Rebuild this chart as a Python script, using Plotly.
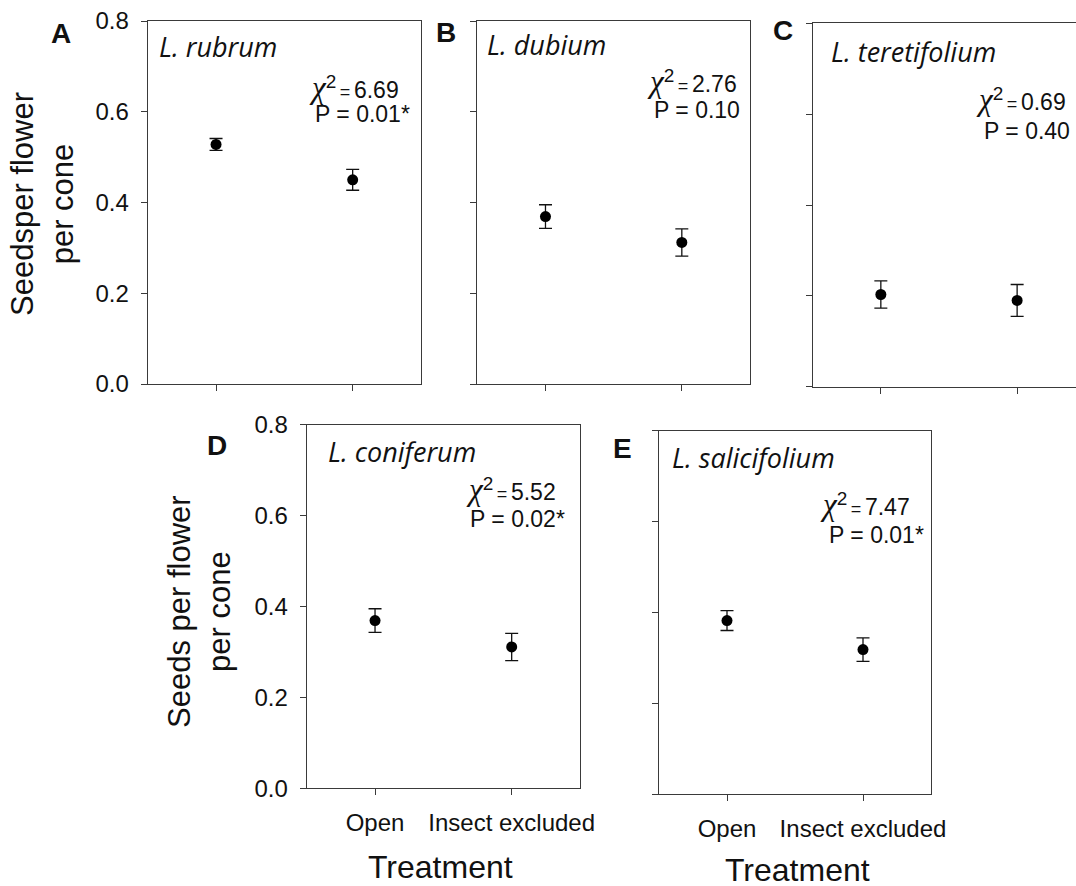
import plotly.graph_objects as go

W, H = 1076, 886

# ---------------- data ----------------
treatments = ["Open", "Insect excluded"]
panel_letters = ["A", "B", "C", "D", "E"]
species = ["L. rubrum", "L. dubium", "L. teretifolium", "L. coniferum", "L. salicifolium"]
open_mean = [0.528, 0.369, 0.203, 0.369, 0.382]
open_se = [0.013, 0.026, 0.030, 0.026, 0.022]
excl_mean = [0.450, 0.312, 0.190, 0.311, 0.318]
excl_se = [0.023, 0.030, 0.035, 0.030, 0.026]
chi2_text = ["6.69", "2.76", "0.69", "5.52", "7.47"]
p_text = ["0.01*", "0.10", "0.40", "0.02*", "0.01*"]
ytick_vals = [0.0, 0.2, 0.4, 0.6, 0.8]
ytick_text = ["0.0", "0.2", "0.4", "0.6", "0.8"]

# ---------------- layout geometry (pixels) ----------------
boxes = [  # left, right, top, bottom
    (147.7, 421.0, 21.0, 384.0),
    (477.3, 750.0, 21.0, 384.0),
    (812.7, 1076.0, 23.3, 386.7),
    (306.7, 580.0, 424.7, 788.3),
    (659.0, 931.0, 430.7, 794.0),
]
xranges = [[-0.5, 1.5], [-0.5, 1.5], [-0.5, 1.432], [-0.5, 1.5], [-0.5, 1.5]]
show_ylabels = [True, False, False, True, False]
show_xlabels = [False, False, False, True, True]
letter_pos = [(60.5, 34), (446, 32.5), (783, 30.5), (217, 445.5), (622, 448.5)]
species_pos = [(157, 46), (485, 44), (829, 51), (326, 452), (670, 457)]
chi_pos = [(401, 88), (739, 82), (1068, 100), (558, 489), (912, 504)]
p_pos = [(412, 114), (742, 110), (1072, 131), (567, 519), (926, 535)]
ytitle_pos = [(42, 204), (199, 612)]
ytitle_text = ["Seedsper flower<br>per cone", "Seeds per flower<br>per cone"]
xtitle_pos = [(440, 867), (797, 870)]

SANS = "Liberation Sans, Arial, sans-serif"
AX = "#3a3a3a"


def fx(x):
    return x / W


def fy(y):
    return 1 - y / H


fig = go.Figure()
layout = dict(
    width=W, height=H,
    margin=dict(l=0, r=0, t=0, b=0, autoexpand=False),
    paper_bgcolor="white", plot_bgcolor="white",
    showlegend=False,
    font=dict(family=SANS, color="#111"),
)

annotations = []
for i in range(5):
    k = "" if i == 0 else str(i + 1)
    l, r, t, b = boxes[i]
    fig.add_trace(go.Scatter(
        x=[0, 1], y=[open_mean[i], excl_mean[i]],
        mode="markers",
        marker=dict(color="black", size=11),
        error_y=dict(type="data", array=[open_se[i], excl_se[i]],
                     color="#111", thickness=1.3, width=6.5),
        xaxis="x" + k, yaxis="y" + k,
        hoverinfo="skip",
    ))
    layout["xaxis" + k] = dict(
        domain=[fx(l), min(fx(r), 1.0)], anchor="y" + k,
        range=xranges[i], tickmode="array", tickvals=[0, 1], ticktext=treatments,
        showticklabels=show_xlabels[i], ticks="outside", ticklen=6, tickwidth=1,
        tickcolor=AX, showline=True, linecolor=AX, linewidth=1, mirror=True,
        showgrid=False, zeroline=False, fixedrange=True, automargin=False,
        tickfont=dict(size=24, family=SANS, color="#111"),
        ticklabelstandoff=7,
    )
    layout["yaxis" + k] = dict(
        domain=[fy(b), fy(t)], anchor="x" + k,
        range=[0, 0.8], tickmode="array", tickvals=ytick_vals, ticktext=ytick_text,
        showticklabels=show_ylabels[i], ticks="outside", ticklen=6, tickwidth=1,
        tickcolor=AX, showline=True, linecolor=AX, linewidth=1,
        mirror=(i != 2),
        showgrid=False, zeroline=False, fixedrange=True, automargin=False,
        tickfont=dict(size=24, family=SANS, color="#111"),
        ticklabelstandoff=7,
    )
    # panel letter
    lx, ly = letter_pos[i]
    annotations.append(dict(x=fx(lx), y=fy(ly), xref="paper", yref="paper",
                            text="<b>" + panel_letters[i] + "</b>", showarrow=False,
                            xanchor="center", yanchor="middle",
                            font=dict(size=28, family=SANS, color="#111")))
    # species name
    sx, sy = species_pos[i]
    annotations.append(dict(x=fx(sx), y=fy(sy), xref="paper", yref="paper",
                            text="<i>" + species[i] + "</i>", showarrow=False,
                            xanchor="left", yanchor="middle",
                            font=dict(size=27, family="Open Sans, sans-serif", color="#111")))
    # chi-square line
    cx, cy = chi_pos[i]
    annotations.append(dict(
        x=fx(cx), y=fy(cy), xref="paper", yref="paper",
        text=("<span style='font-family:Liberation Serif;font-style:italic;font-size:31px'>\u03c7</span>"
              "<sup><span style='font-size:19px'>2</span></sup>"
              "<span style='font-size:18px'>\u2009=\u2009</span>" + chi2_text[i]),
        showarrow=False, xanchor="right", yanchor="middle",
        font=dict(size=23, family=SANS, color="#111")))
    # P line
    px_, py_ = p_pos[i]
    annotations.append(dict(x=fx(px_), y=fy(py_), xref="paper", yref="paper",
                            text="P = " + p_text[i], showarrow=False,
                            xanchor="right", yanchor="middle",
                            font=dict(size=23, family=SANS, color="#111")))

for j in range(2):
    tx, ty = ytitle_pos[j]
    annotations.append(dict(x=fx(tx), y=fy(ty), xref="paper", yref="paper",
                            text=ytitle_text[j], textangle=-90, showarrow=False,
                            xanchor="center", yanchor="middle",
                            font=dict(size=31, family=SANS, color="#111")))
    xx, xy = xtitle_pos[j]
    annotations.append(dict(x=fx(xx), y=fy(xy), xref="paper", yref="paper",
                            text="Treatment", showarrow=False,
                            xanchor="center", yanchor="middle",
                            font=dict(size=32, family=SANS, color="#111")))

layout["annotations"] = annotations
fig.update_layout(**layout)
fig.write_html("out.html")
